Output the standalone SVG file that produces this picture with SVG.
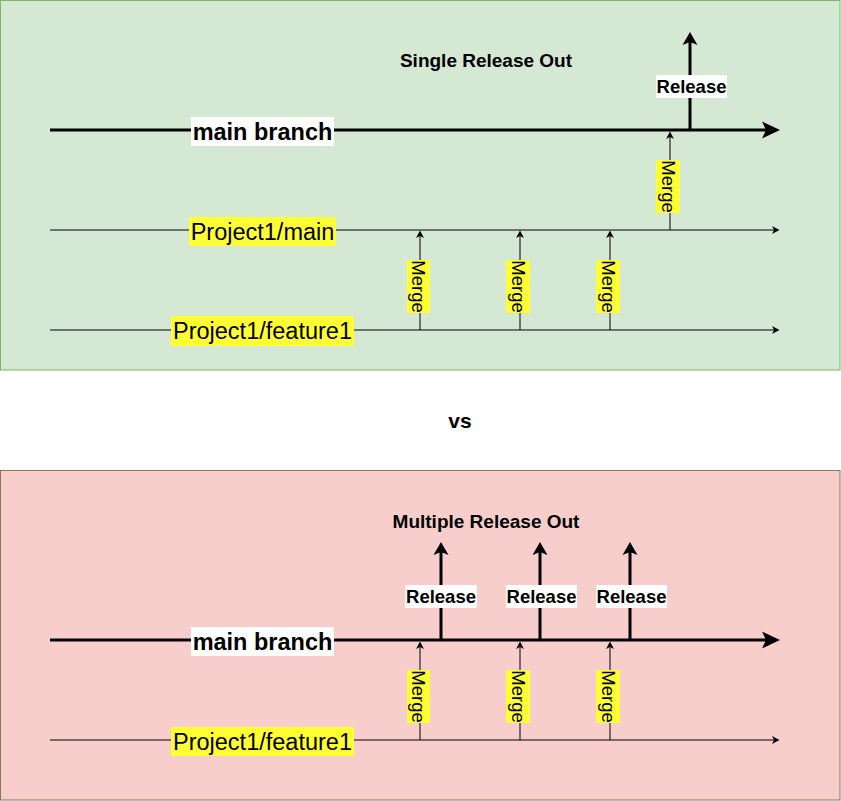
<svg xmlns="http://www.w3.org/2000/svg" width="841" height="801" viewBox="0 0 841 801">
<style>
  .lbl { font-family: "Liberation Sans", Arial, sans-serif; text-anchor: middle; dominant-baseline: central; fill: #000; }
  .big { font-size: 23.5px; }
  .bold { font-weight: bold; }
  .merge { font-size: 18.5px; }
  .rel { font-size: 18.5px; font-weight: bold; }
  .title { font-size: 19px; font-weight: bold; }
  .vs { font-size: 21px; font-weight: bold; }
  .ybg { fill: #ffff33; }
  .wbg { fill: #ffffff; }
  .thick { stroke: #000; stroke-width: 3; fill: none; }
  .thin { stroke: #000; stroke-width: 1; fill: none; }
</style>
<defs>
  <marker id="bigArrow" viewBox="-5 -10 20 20" refX="0" refY="0" markerWidth="20" markerHeight="20" markerUnits="userSpaceOnUse" orient="auto">
    <path d="M14,0 L-4,-8.5 L0,0 L-4,8.5 Z" fill="#000"/>
  </marker>
  <marker id="relArrow" viewBox="-4 -8 16 16" refX="0" refY="0" markerWidth="16" markerHeight="16" markerUnits="userSpaceOnUse" orient="auto">
    <path d="M10,0 L-3,-7.5 L0,0 L-3,7.5 Z" fill="#000"/>
  </marker>
  <marker id="smallArrow" viewBox="-3 -5 10 10" refX="0" refY="0" markerWidth="10" markerHeight="10" markerUnits="userSpaceOnUse" orient="auto">
    <path d="M5.5,0 L-2,-4 L0,0 L-2,4 Z" fill="#000"/>
  </marker>
</defs>

<!-- panels -->
<g id="panel-single">
  <rect x="0.5" y="0.5" width="839.5" height="369.5" fill="#d5e8d4" stroke="#82b366"/>
</g>
<g id="panel-multiple">
  <rect x="0.5" y="470.5" width="839.5" height="329.5" fill="#f8cecc" stroke="#8d7355"/>
</g>

<!-- connectors -->
<g id="connectors">
  <!-- top -->
  <line class="thick" x1="50" y1="130" x2="766" y2="130" marker-end="url(#bigArrow)"/>
  <line class="thin" x1="50" y1="230" x2="774" y2="230" marker-end="url(#smallArrow)"/>
  <line class="thin" x1="50" y1="330" x2="774" y2="330" marker-end="url(#smallArrow)"/>
  <line class="thin" x1="420" y1="330" x2="420" y2="236" marker-end="url(#smallArrow)"/>
  <line class="thin" x1="520" y1="330" x2="520" y2="236" marker-end="url(#smallArrow)"/>
  <line class="thin" x1="610" y1="330" x2="610" y2="236" marker-end="url(#smallArrow)"/>
  <line class="thin" x1="670" y1="230" x2="670" y2="137" marker-end="url(#smallArrow)"/>
  <line class="thick" x1="690" y1="130" x2="690" y2="42" marker-end="url(#relArrow)"/>
  <!-- bottom -->
  <line class="thick" x1="50" y1="640" x2="766" y2="640" marker-end="url(#bigArrow)"/>
  <line class="thin" x1="50" y1="740" x2="774" y2="740" marker-end="url(#smallArrow)"/>
  <line class="thin" x1="420" y1="740" x2="420" y2="647" marker-end="url(#smallArrow)"/>
  <line class="thin" x1="520" y1="740" x2="520" y2="647" marker-end="url(#smallArrow)"/>
  <line class="thin" x1="610" y1="740" x2="610" y2="647" marker-end="url(#smallArrow)"/>
  <line class="thick" x1="441" y1="640" x2="441" y2="552" marker-end="url(#relArrow)"/>
  <line class="thick" x1="540" y1="640" x2="540" y2="552" marker-end="url(#relArrow)"/>
  <line class="thick" x1="630" y1="640" x2="630" y2="552" marker-end="url(#relArrow)"/>
</g>

<!-- top panel labels -->
<g id="title-single">
  <text class="lbl title" x="486" y="60">Single Release Out</text>
</g>
<g id="main-branch-top">
  <rect class="wbg" x="191" y="117" width="143" height="29"/>
  <text class="lbl big bold" x="262.5" y="131.5">main branch</text>
</g>
<g id="project1-main">
  <rect class="ybg" x="189" y="217" width="147" height="29"/>
  <text class="lbl big" x="262.5" y="231.5">Project1/main</text>
</g>
<g id="project1-feature1-top">
  <rect class="ybg" x="171" y="316" width="183" height="30"/>
  <text class="lbl big" x="262.5" y="331">Project1/feature1</text>
</g>
<g id="merge-top-1">
  <rect class="ybg" x="407" y="260" width="23" height="53"/>
  <text class="lbl merge" x="418.5" y="286.5" transform="rotate(90 418.5 286.5)">Merge</text>
</g>
<g id="merge-top-2">
  <rect class="ybg" x="506" y="260" width="24" height="53"/>
  <text class="lbl merge" x="518" y="286.5" transform="rotate(90 518 286.5)">Merge</text>
</g>
<g id="merge-top-3">
  <rect class="ybg" x="596" y="260" width="24" height="53"/>
  <text class="lbl merge" x="608" y="286.5" transform="rotate(90 608 286.5)">Merge</text>
</g>
<g id="merge-top-4">
  <rect class="ybg" x="656" y="160" width="24" height="53"/>
  <text class="lbl merge" x="668" y="186.5" transform="rotate(90 668 186.5)">Merge</text>
</g>
<g id="release-top">
  <rect class="wbg" x="656" y="75" width="71" height="23"/>
  <text class="lbl rel" x="691.5" y="86.5">Release</text>
</g>

<g id="vs">
  <text class="lbl vs" x="460" y="420">vs</text>
</g>

<!-- bottom panel labels -->
<g id="title-multiple">
  <text class="lbl title" x="486" y="521">Multiple Release Out</text>
</g>
<g id="main-branch-bottom">
  <rect class="wbg" x="191" y="627" width="143" height="29"/>
  <text class="lbl big bold" x="262.5" y="641.5">main branch</text>
</g>
<g id="project1-feature1-bottom">
  <rect class="ybg" x="171" y="727" width="183" height="29"/>
  <text class="lbl big" x="262.5" y="741.5">Project1/feature1</text>
</g>
<g id="merge-bottom-1">
  <rect class="ybg" x="407" y="670" width="23" height="53"/>
  <text class="lbl merge" x="418.5" y="696.5" transform="rotate(90 418.5 696.5)">Merge</text>
</g>
<g id="merge-bottom-2">
  <rect class="ybg" x="506" y="670" width="24" height="53"/>
  <text class="lbl merge" x="518" y="696.5" transform="rotate(90 518 696.5)">Merge</text>
</g>
<g id="merge-bottom-3">
  <rect class="ybg" x="596" y="670" width="24" height="53"/>
  <text class="lbl merge" x="608" y="696.5" transform="rotate(90 608 696.5)">Merge</text>
</g>
<g id="release-bottom-1">
  <rect class="wbg" x="405" y="585" width="72" height="23"/>
  <text class="lbl rel" x="441" y="596.5">Release</text>
</g>
<g id="release-bottom-2">
  <rect class="wbg" x="506" y="585" width="71" height="23"/>
  <text class="lbl rel" x="541.5" y="596.5">Release</text>
</g>
<g id="release-bottom-3">
  <rect class="wbg" x="596" y="585" width="71" height="23"/>
  <text class="lbl rel" x="631.5" y="596.5">Release</text>
</g>
</svg>
